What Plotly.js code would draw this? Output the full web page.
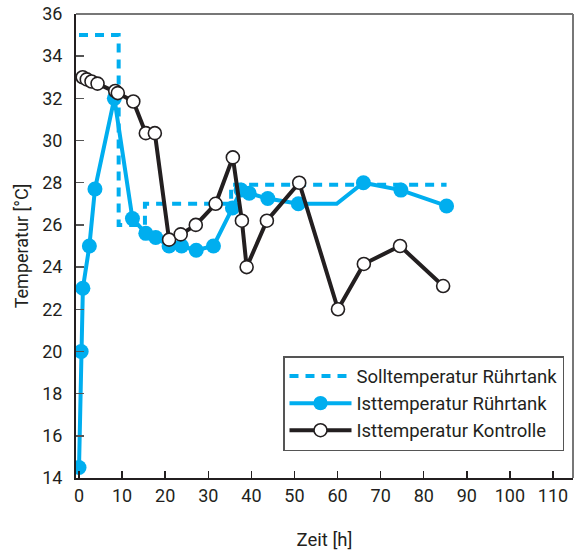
<!DOCTYPE html>
<html>
<head>
<meta charset="utf-8">
<script src="https://cdn.plot.ly/plotly-3.0.1.min.js"></script>
<style>html,body{margin:0;padding:0;background:#fff;}#chart{width:575px;height:556px;}</style>
</head>
<body>
<div id="chart"></div>
<script>
// Solltemperatur Rührtank (setpoint, stepwise)
const sollX = [0, 9.2, 9.2, 15.3, 15.3, 35.3, 35.3, 85.3];
const sollY = [35, 35, 26, 26, 27, 27, 27.9, 27.9];

// Isttemperatur Rührtank
const istTankX = [0, 0.5, 0.9, 2.4, 3.7, 8.2, 12.4, 15.5, 17.8, 20.9, 23.8, 27.2, 31.2, 35.6, 37.6, 39.5, 43.8, 50.9, 59.8, 66.0, 74.7, 85.3];
const istTankY = [14.5, 20.0, 23.0, 25.0, 27.7, 32.0, 26.3, 25.6, 25.4, 25.0, 25.0, 24.8, 25.0, 26.8, 27.65, 27.5, 27.25, 27.0, 27.0, 28.0, 27.65, 26.9];
const istTankMarked = [1,1,1,1,1,1,1,1,1,1,1,1,1,1,1,1,1,1,0,1,1,1];

// Isttemperatur Kontrolle
const kontrX = [0.85, 1.8, 2.9, 4.3, 8.4, 9.0, 12.6, 15.5, 17.6, 20.9, 23.6, 27.1, 31.7, 35.7, 37.8, 38.9, 43.6, 51.1, 60.1, 66.1, 74.5, 84.5];
const kontrY = [33.0, 32.9, 32.8, 32.7, 32.35, 32.25, 31.85, 30.35, 30.35, 25.3, 25.55, 26.0, 27.0, 29.2, 26.2, 24.0, 26.2, 28.0, 22.0, 24.15, 25.0, 23.1];

const xTicks = [0, 10, 20, 30, 40, 50, 60, 70, 80, 90, 100, 110];
const yTicks = [14, 16, 18, 20, 22, 24, 26, 28, 30, 32, 34, 36];

const BLUE = '#00AEEF';
const DARK = '#231F20';
const FONT = 'Roboto, "Liberation Sans", sans-serif';

const traces = [
  {
    x: sollX, y: sollY, type: 'scatter', mode: 'lines',
    name: 'Solltemperatur Rührtank',
    line: {color: BLUE, width: 4, dash: '9px,7px', shape: 'linear'},
    hoverinfo: 'skip'
  },
  {
    x: istTankX, y: istTankY, type: 'scatter', mode: 'lines+markers',
    name: 'Isttemperatur Rührtank',
    line: {color: BLUE, width: 4},
    marker: {color: BLUE, opacity: 1, size: istTankMarked.map(m => m ? 15 : 0), line: {width: 0}}
  },
  {
    x: kontrX, y: kontrY, type: 'scatter', mode: 'lines+markers',
    name: 'Isttemperatur Kontrolle',
    line: {color: DARK, width: 4},
    marker: {color: '#ffffff', opacity: 1, size: 13, line: {color: DARK, width: 1.6}}
  }
];

const layout = {
  width: 575, height: 556,
  margin: {l: 76, r: 2, t: 14, b: 78},
  paper_bgcolor: '#ffffff', plot_bgcolor: '#ffffff',
  font: {family: FONT, color: '#231F20', size: 17},
  showlegend: true,
  legend: {
    x: 0.4165, y: 0.2628, xanchor: 'left', yanchor: 'top',
    bgcolor: '#ffffff', bordercolor: '#555555', borderwidth: 1.5,
    font: {family: FONT, size: 18.5, color: '#231F20'},
    itemwidth: 62, tracegroupgap: 0
  },
  xaxis: {
    range: [-0.7, 114.64],
    tickvals: xTicks, ticktext: xTicks.map(String),
    ticks: 'inside', ticklen: 7, tickwidth: 1.5, tickcolor: '#231F20',
    showline: true, linecolor: '#231F20', linewidth: 2,
    showgrid: false, zeroline: false,
    tickfont: {family: FONT, size: 18, color: '#231F20'},
    title: {text: 'Zeit [h]', font: {family: FONT, size: 18.5, color: '#231F20'}, standoff: 28}
  },
  yaxis: {
    range: [14, 36],
    tickvals: yTicks, ticktext: yTicks.map(String),
    ticks: 'inside', ticklen: 8, tickwidth: 1.5, tickcolor: '#555555',
    showline: true, linecolor: '#231F20', linewidth: 2,
    showgrid: false, zeroline: false,
    ticklabelstandoff: 8,
    tickfont: {family: FONT, size: 18, color: '#231F20'},
    title: {text: 'Temperatur [°C]', font: {family: FONT, size: 18, color: '#231F20'}, standoff: 9}
  },
  shapes: [
    {type: 'line', xref: 'paper', yref: 'paper', x0: 0, x1: 1, y0: 1, y1: 1, line: {color: '#777777', width: 2}, layer: 'below'},
    {type: 'line', xref: 'paper', yref: 'paper', x0: 1, x1: 1, y0: 0, y1: 1, line: {color: '#777777', width: 2}, layer: 'below'}
  ]
};

Plotly.newPlot('chart', traces, layout, {displayModeBar: false, staticPlot: true});
</script>
</body>
</html>
